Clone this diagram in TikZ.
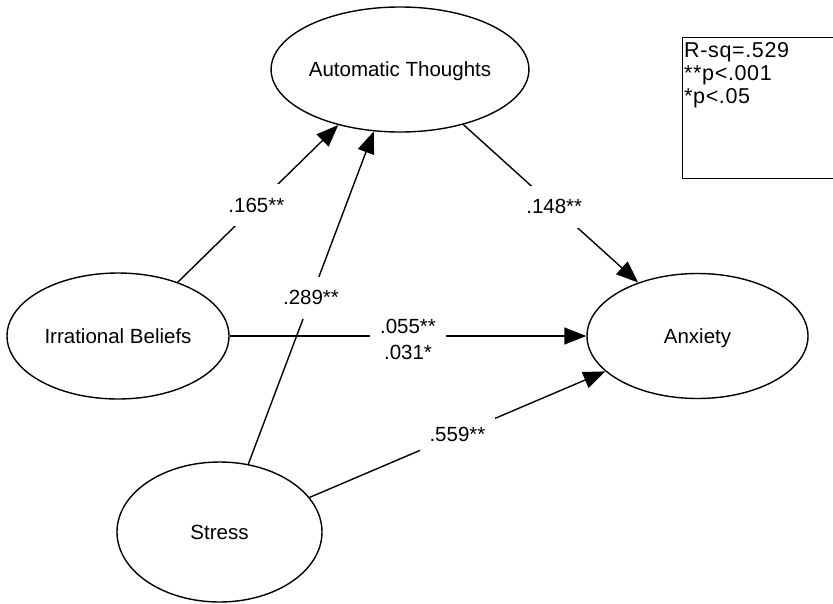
\documentclass[tikz,border=0pt]{standalone}
\usepackage{fontspec}
\setmainfont{Liberation Sans}
\usetikzlibrary{arrows.meta,shapes.geometric}
\newcommand{\diagfont}{\fontsize{20.5}{26}\selectfont}
\newcommand{\legfont}{\fontsize{21.5}{23}\selectfont\addfontfeature{LetterSpace=3}}
\tikzset{
  var/.style={draw, ellipse, line width=1.4pt, inner sep=0pt, font=\diagfont,
              text height=14.7pt, text depth=0pt},
  conn/.style={line width=1.4pt, -{Triangle[length=22pt,width=17pt]}},
  coef/.style={fill=white, inner xsep=10pt, inner ysep=13.5pt, font=\diagfont},
  legbox/.style={draw, line width=1.4pt, anchor=north west, inner sep=0pt,
                 minimum width=170pt, minimum height=141pt},
  legtext/.style={anchor=north west, align=left, inner xsep=2pt, inner ysep=5pt, font=\legfont}
}
\begin{document}
\begin{tikzpicture}[x=1pt,y=-1pt]
\useasboundingbox (0,0) rectangle (833,603);
% variables
\node[var, minimum width=218pt, minimum height=125pt] (AT) at (400,69.5) {Automatic Thoughts};
\node[var, minimum width=222pt, minimum height=126pt] (IB) at (118,336) {Irrational Beliefs};
\node[var, minimum width=221pt, minimum height=125pt] (AX) at (697.5,336) {Anxiety};
\node[var, minimum width=205pt, minimum height=140pt] (ST) at (219.5,532) {Stress};
% paths
\draw[conn] (IB.42.8) -- node[coef, pos=0.49] {.165**} (AT.222.5);
\draw[conn] (ST.67.8) -- node[coef, pos=0.5] {.289**} (AT.247.6);
\draw[conn] (AT.-41) -- node[coef, pos=0.52] {.148**} (AX.138.5);
\draw[conn] (IB.east) -- node[coef, pos=0.5, align=center, yshift=-3pt] {.055**\\.031*} (AX.west);
\draw[conn] (ST.21.7) -- node[coef, pos=0.5] {.559**} (AX.201.6);
% legend
\node[legbox] (LG) at (682,37) {};
\node[legtext] (LT) at (LG.north west) {R-sq=.529\\**p<.001\\*p<.05};
\end{tikzpicture}
\end{document}
